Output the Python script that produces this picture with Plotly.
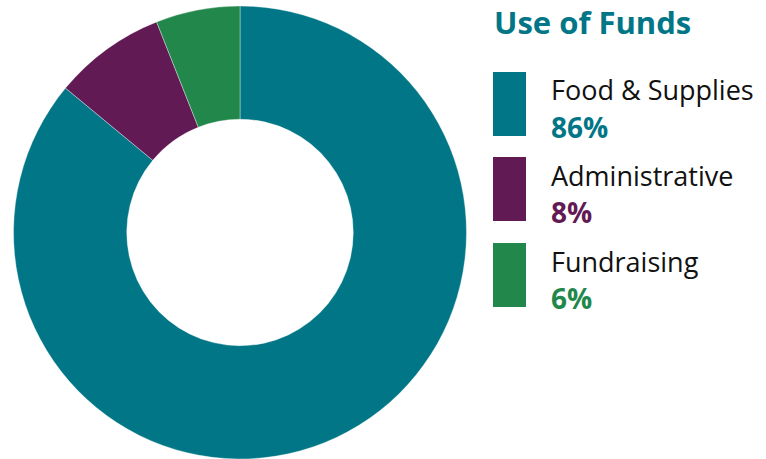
import plotly.graph_objects as go

W, H = 766, 459
categories = ["Food & Supplies", "Administrative", "Fundraising"]
values = [86, 8, 6]
colors = ["#007686", "#621A55", "#22874B"]
title = "Use of Funds"

FONT = "Open Sans"

def px(x):
    return x / W

def py(y):
    return min(1, max(0, 1 - y / H))

fig = go.Figure(go.Pie(
    labels=categories,
    values=values,
    sort=False,
    direction="clockwise",
    rotation=0,
    hole=0.5,
    marker=dict(colors=colors, line=dict(color="rgba(255,255,255,0.6)", width=0.6)),
    textinfo="none",
    hoverinfo="label+percent",
    showlegend=False,
    domain=dict(x=[px(13), px(467)], y=[py(459), py(6)]),
))

annotations = [dict(
    text=f"<b>{title}</b>", x=px(493), y=1, xref="paper", yref="paper",
    xanchor="left", yanchor="top", showarrow=False, borderpad=0,
    font=dict(family=FONT, size=31, color=colors[0]),
)]
shapes = []
box_tops = [72, 157, 243]
for cat, val, col, top in zip(categories, values, colors, box_tops):
    shapes.append(dict(type="rect", xref="paper", yref="paper",
                       x0=px(493), x1=px(526), y0=py(top), y1=py(top + 64),
                       fillcolor=col, line=dict(width=0)))
    annotations.append(dict(
        text=cat, x=px(549), y=py(top + 18), xref="paper", yref="paper",
        xanchor="left", yanchor="middle", showarrow=False,
        font=dict(family=FONT, size=27, color="#111111"),
    ))
    annotations.append(dict(
        text=f"<b>{val}%</b>", x=px(549), y=py(top + 55), xref="paper", yref="paper",
        xanchor="left", yanchor="middle", showarrow=False,
        font=dict(family=FONT, size=28, color=col),
    ))

fig.update_layout(
    width=W, height=H,
    margin=dict(l=0, r=0, t=0, b=0),
    paper_bgcolor="white", plot_bgcolor="white",
    annotations=annotations, shapes=shapes,
)
fig.write_html("out.html", config={"displayModeBar": False},
               post_script="document.body.style.margin='0';document.body.style.overflow='hidden';")
